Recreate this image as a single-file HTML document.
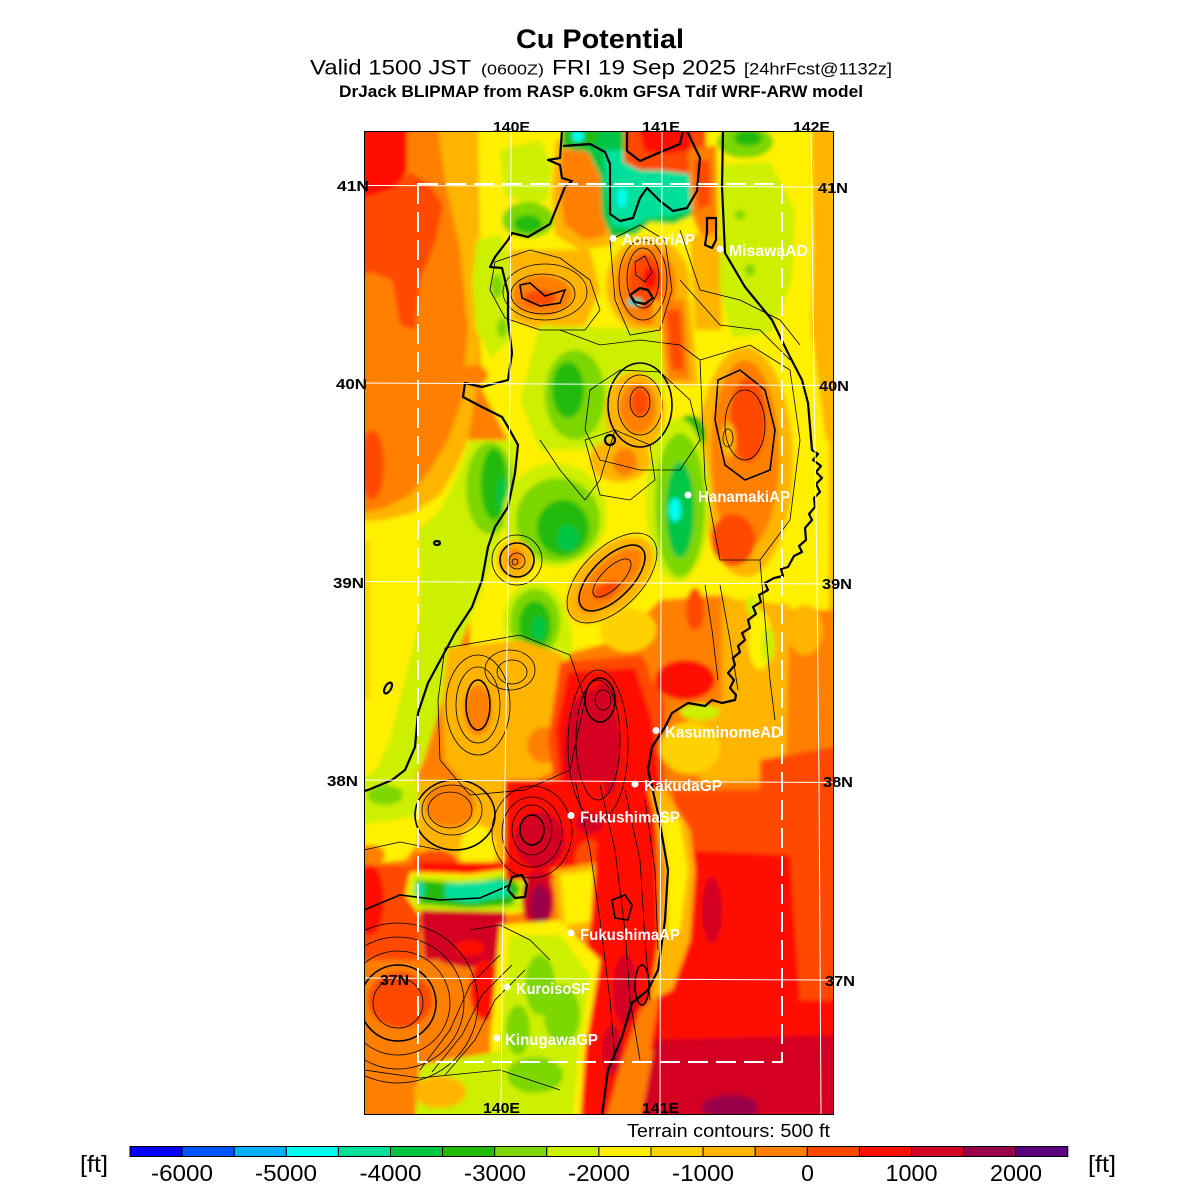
<!DOCTYPE html>
<html><head><meta charset="utf-8"><style>
html,body{margin:0;padding:0;background:#fff;}
svg{display:block;font-family:"Liberation Sans",Arial,sans-serif;}
</style></head><body>
<svg width="1200" height="1200" viewBox="0 0 1200 1200" xmlns="http://www.w3.org/2000/svg">
<defs>
<clipPath id="mc"><rect x="364" y="131" width="470" height="984"/></clipPath>
<filter id="bl" x="-5%" y="-5%" width="110%" height="110%"><feGaussianBlur stdDeviation="2"/></filter>
</defs>
<rect width="1200" height="1200" fill="#fff"/>

<!-- Titles -->
<text x="600" y="48" text-anchor="middle" font-size="27" font-weight="bold" textLength="168" lengthAdjust="spacingAndGlyphs">Cu Potential</text>
<text x="310" y="74.5" font-size="21" textLength="161" lengthAdjust="spacingAndGlyphs">Valid 1500 JST</text>
<text x="481" y="74.5" font-size="15" textLength="63" lengthAdjust="spacingAndGlyphs">(0600Z)</text>
<text x="552" y="74.5" font-size="21" textLength="184" lengthAdjust="spacingAndGlyphs">FRI 19 Sep 2025</text>
<text x="744" y="74.5" font-size="17" textLength="148" lengthAdjust="spacingAndGlyphs">[24hrFcst@1132z]</text>
<text x="339" y="97" font-size="17" font-weight="bold" textLength="524" lengthAdjust="spacingAndGlyphs">DrJack BLIPMAP from RASP 6.0km GFSA Tdif WRF-ARW model</text>

<g clip-path="url(#mc)">
<g filter="url(#bl)">
<rect x="354" y="121" width="490" height="1004" fill="#ff8000"/>
<!-- west sea -->
<polygon points="354,121 407,121 407,170 396,193 372,208 354,215" fill="#ff1000"/>
<polygon points="354,200 390,190 410,172 430,185 443,205 436,240 420,280 415,330 400,325 392,280 370,272 354,280" fill="#ff4800"/>
<ellipse cx="372" cy="465" rx="12" ry="35" fill="#ff4800"/>
<polygon points="437,121 480,121 482,200 480,300 478,380 468,440 455,470 440,495 415,512 385,520 354,522 354,515 385,508 410,495 430,470 448,440 462,400 468,330 460,250 445,180" fill="#ffb400"/>
<polygon points="354,522 385,520 415,512 440,495 455,470 468,440 500,440 496,480 480,520 460,560 440,600 425,650 410,700 395,745 380,775 354,800" fill="#fff000"/>
<rect x="354" y="540" width="16" height="160" fill="#ffd200"/>
<!-- north land yellow -->
<polygon points="478,121 812,121 814,250 812,330 826,440 844,440 844,612 780,612 720,595 660,600 620,640 580,650 540,660 500,660 470,650 470,600 490,560 505,500 508,440 482,390 478,300 480,240" fill="#fff000"/>
<polygon points="812,121 844,121 844,440 826,440 814,340 814,250" fill="#ffb400"/>
<rect x="829" y="440" width="15" height="180" fill="#ffb400"/>
<!-- YG west band -->
<polygon points="470,440 518,440 516,470 508,515 495,555 480,595 462,640 448,680 436,720 424,760 410,790 354,805 354,785 376,770 390,740 400,700 410,660 420,620 420,560 418,530 440,510 455,480" fill="#cdef00"/>
<polygon points="476,240 500,235 512,260 510,340 492,358 476,330 472,280" fill="#cdef00"/>
<ellipse cx="497" cy="286" rx="6" ry="12" fill="#7dd705"/>
<ellipse cx="502" cy="328" rx="5" ry="10" fill="#7dd705"/>
<!-- Tsugaru -->
<polygon points="500,150 540,140 552,165 548,200 530,205 505,195" fill="#cdef00"/>
<ellipse cx="528" cy="220" rx="26" ry="18" fill="#7dd705"/>
<ellipse cx="528" cy="224" rx="14" ry="9" fill="#22bb0c"/>
<polygon points="556,140 600,140 612,190 614,245 580,250 555,235 552,190" fill="#ffb400"/>
<polygon points="562,150 598,150 606,195 606,235 585,240 565,225 560,190" fill="#ff8000"/>
<!-- Mutsu bay -->
<polygon points="562,121 702,121 704,165 694,214 674,224 650,222 636,234 612,238 602,216 600,176 588,152 562,148" fill="#05c544"/>
<polygon points="604,150 650,150 692,165 692,210 672,216 648,218 632,228 612,226 606,190" fill="#00e09a"/>
<ellipse cx="580" cy="137" rx="18" ry="10" fill="#22bb0c"/>
<ellipse cx="578" cy="136" rx="6" ry="6" fill="#00ffef"/>
<ellipse cx="622" cy="198" rx="5" ry="10" fill="#00ffef"/>
<polygon points="624,121 706,121 706,165 692,174 660,170 640,170 624,162" fill="#ff4800"/>
<polygon points="636,121 692,121 690,150 666,154 645,152" fill="#ff1000"/>
<polygon points="688,150 716,145 718,232 702,240 692,214" fill="#ff8000"/>
<polygon points="694,160 710,160 710,205 698,210" fill="#ff4800"/>
<polygon points="690,235 720,235 722,330 695,330" fill="#ffb400"/>
<ellipse cx="745" cy="142" rx="28" ry="16" fill="#7dd705"/>
<ellipse cx="748" cy="138" rx="14" ry="8" fill="#22bb0c"/>
<polygon points="720,165 770,162 795,210 792,280 772,332 732,338 720,290 720,220" fill="#cdef00"/>
<ellipse cx="740" cy="215" rx="5" ry="5" fill="#7dd705"/>
<ellipse cx="750" cy="270" rx="5" ry="6" fill="#7dd705"/>
<!-- Hakkoda -->
<ellipse cx="648" cy="285" rx="42" ry="48" fill="#ffb400"/>
<ellipse cx="646" cy="285" rx="30" ry="40" fill="#ff8000"/>
<ellipse cx="645" cy="282" rx="17" ry="28" fill="#ff4800"/>
<ellipse cx="650" cy="278" rx="7" ry="12" fill="#ff1000"/>
<ellipse cx="635" cy="302" rx="8" ry="4" fill="#00e09a"/>
<ellipse cx="633" cy="302" rx="3" ry="2" fill="#00b0ff"/>
<polygon points="652,300 690,300 698,385 660,385" fill="#ffb400"/>
<polygon points="660,300 684,300 690,380 668,380" fill="#ff8000"/>
<polygon points="666,310 680,310 684,370 672,370" fill="#ff4800"/>
<!-- Shirakami -->
<polygon points="510,250 590,250 600,290 585,325 540,330 512,320" fill="#ffb400"/>
<ellipse cx="542" cy="295" rx="30" ry="20" fill="#ff8000"/>
<ellipse cx="540" cy="298" rx="16" ry="8" fill="#ff4800"/>
<ellipse cx="474" cy="375" rx="14" ry="10" fill="#ff8000"/>
<!-- north central green -->
<polygon points="540,325 660,330 665,390 660,450 540,450 520,400" fill="#cdef00"/>
<ellipse cx="575" cy="395" rx="30" ry="45" fill="#7dd705"/>
<ellipse cx="568" cy="390" rx="16" ry="28" fill="#22bb0c"/>
<ellipse cx="635" cy="412" rx="30" ry="40" fill="#ffb400"/>
<ellipse cx="638" cy="408" rx="18" ry="26" fill="#ff8000"/>
<ellipse cx="640" cy="402" rx="9" ry="14" fill="#ff4800"/>
<!-- Kitakami -->
<ellipse cx="745" cy="462" rx="48" ry="115" fill="#ffb400"/>
<ellipse cx="745" cy="455" rx="34" ry="95" fill="#ff8000"/>
<ellipse cx="748" cy="420" rx="18" ry="42" fill="#ff4800"/>
<ellipse cx="733" cy="540" rx="22" ry="26" fill="#ff4800"/>
<ellipse cx="728" cy="440" rx="8" ry="18" fill="#ffb400"/>
<ellipse cx="690" cy="435" rx="16" ry="20" fill="#22bb0c"/>
<!-- middle -->
<ellipse cx="490" cy="488" rx="24" ry="46" fill="#7dd705"/>
<ellipse cx="494" cy="484" rx="13" ry="36" fill="#22bb0c"/>
<ellipse cx="502" cy="495" rx="5" ry="18" fill="#05c544"/>
<ellipse cx="555" cy="515" rx="52" ry="52" fill="#cdef00"/>
<ellipse cx="558" cy="520" rx="42" ry="42" fill="#7dd705"/>
<ellipse cx="563" cy="528" rx="26" ry="28" fill="#22bb0c"/>
<ellipse cx="568" cy="538" rx="11" ry="13" fill="#05c544"/>
<ellipse cx="515" cy="560" rx="18" ry="20" fill="#ffb400"/>
<ellipse cx="515" cy="558" rx="8" ry="10" fill="#ff8000"/>
<ellipse cx="610" cy="580" rx="54" ry="30" transform="rotate(-45 610 580)" fill="#ffb400"/>
<ellipse cx="610" cy="580" rx="42" ry="18" transform="rotate(-45 610 580)" fill="#ff8000"/>
<ellipse cx="606" cy="590" rx="14" ry="7" transform="rotate(-30 606 590)" fill="#ff4800"/>
<ellipse cx="678" cy="500" rx="32" ry="82" fill="#cdef00"/>
<ellipse cx="680" cy="505" rx="25" ry="72" fill="#7dd705"/>
<ellipse cx="680" cy="510" rx="14" ry="48" fill="#05c544"/>
<ellipse cx="675" cy="510" rx="6" ry="12" fill="#00ffef"/>
<ellipse cx="620" cy="460" rx="30" ry="22" fill="#ffb400"/>
<ellipse cx="625" cy="462" rx="12" ry="14" fill="#ff8000"/>
<ellipse cx="535" cy="622" rx="32" ry="40" fill="#cdef00"/>
<ellipse cx="535" cy="622" rx="25" ry="33" fill="#7dd705"/>
<ellipse cx="535" cy="625" rx="16" ry="24" fill="#22bb0c"/>
<ellipse cx="539" cy="628" rx="7" ry="12" fill="#05c544"/>
<polygon points="448,648 520,640 565,655 580,700 565,765 525,785 470,792 445,760 442,700" fill="#ffb400"/>
<ellipse cx="478" cy="710" rx="14" ry="25" fill="#ff8000"/>
<ellipse cx="545" cy="745" rx="18" ry="18" fill="#ff8000"/>
<ellipse cx="628" cy="630" rx="28" ry="22" fill="#ffd200"/>
<ellipse cx="566" cy="640" rx="6" ry="20" fill="#cdef00"/>
<ellipse cx="695" cy="610" rx="9" ry="22" fill="#ff4800"/>
<polygon points="560,662 642,655 665,700 665,790 556,795 548,740" fill="#ff4800"/>
<polygon points="568,672 635,668 652,720 662,800 562,800 556,730" fill="#ff1000"/>
<ellipse cx="592" cy="752" rx="28" ry="62" fill="#d30024"/>
<ellipse cx="605" cy="700" rx="12" ry="18" fill="#d30024"/>
<ellipse cx="690" cy="665" rx="42" ry="36" fill="#ff8000"/>
<ellipse cx="685" cy="680" rx="30" ry="20" fill="#ff1000"/>
<polygon points="722,598 790,605 795,700 790,780 700,782 688,720 722,700" fill="#ffb400"/>
<ellipse cx="760" cy="640" rx="12" ry="30" fill="#fff000"/>
<ellipse cx="768" cy="645" rx="7" ry="18" fill="#cdef00"/>
<ellipse cx="752" cy="605" rx="6" ry="10" fill="#cdef00"/>
<ellipse cx="700" cy="712" rx="20" ry="8" fill="#cdef00"/>
<ellipse cx="690" cy="748" rx="30" ry="26" fill="#ffd200"/>
<polygon points="790,610 844,610 844,790 785,790" fill="#ff8000"/>
<ellipse cx="805" cy="630" rx="18" ry="25" fill="#ffb400"/>
<polygon points="760,760 844,745 844,800 760,800" fill="#ff4800"/>
<!-- south -->
<polygon points="354,790 420,780 425,835 405,860 354,865" fill="#fff000"/>
<polygon points="354,792 418,782 418,815 395,820 354,825" fill="#cdef00"/>
<ellipse cx="385" cy="795" rx="18" ry="10" fill="#7dd705"/>
<ellipse cx="370" cy="855" rx="15" ry="10" fill="#ff8000"/>
<polygon points="418,780 505,780 505,865 418,870" fill="#ffb400"/>
<ellipse cx="450" cy="805" rx="25" ry="22" fill="#ff8000"/>
<ellipse cx="478" cy="850" rx="18" ry="25" fill="#fff000"/>
<ellipse cx="435" cy="862" rx="22" ry="12" fill="#ff4800"/>
<polygon points="354,865 420,865 420,985 354,985" fill="#ff4800"/>
<ellipse cx="370" cy="900" rx="14" ry="35" fill="#ff1000"/>
<polygon points="420,862 510,862 515,875 420,878" fill="#ff1000"/>
<polygon points="410,872 470,874 515,868 530,885 525,912 480,918 420,916 405,895" fill="#fff000"/>
<polygon points="412,875 470,878 512,870 526,886 520,910 470,914 418,912 408,895" fill="#cdef00"/>
<polygon points="416,880 470,884 510,876 520,888 512,905 470,908 420,904" fill="#22bb0c"/>
<polygon points="445,884 505,880 512,895 470,903 445,898" fill="#00e09a"/>
<ellipse cx="420" cy="890" rx="5" ry="8" fill="#00e09a"/>
<polygon points="420,910 505,912 510,960 470,968 425,960" fill="#d30024"/>
<ellipse cx="470" cy="948" rx="15" ry="8" fill="#ff1000"/>
<polygon points="354,960 440,960 475,1000 470,1065 354,1065" fill="#ff8000"/>
<ellipse cx="400" cy="1000" rx="32" ry="28" fill="#ff4800"/>
<ellipse cx="485" cy="990" rx="15" ry="30" fill="#ff1000"/>
<polygon points="505,780 605,780 605,880 505,880" fill="#ff1000"/>
<ellipse cx="540" cy="840" rx="25" ry="28" fill="#d30024"/>
<ellipse cx="590" cy="860" rx="15" ry="20" fill="#ff4800"/>
<ellipse cx="538" cy="900" rx="16" ry="30" fill="#d30024"/>
<ellipse cx="540" cy="905" rx="10" ry="20" fill="#9a004a"/>
<polygon points="552,870 600,862 606,930 560,935" fill="#ffb400"/>
<polygon points="560,875 595,870 598,920 565,925" fill="#fff000"/>
<!-- inland red -->
<polygon points="600,795 650,790 660,850 670,930 660,990 640,1010 622,1060 604,1125 578,1125 575,1000 590,930" fill="#ff1000"/>
<ellipse cx="625" cy="990" rx="12" ry="35" fill="#d30024"/>
<ellipse cx="612" cy="1050" rx="10" ry="25" fill="#d30024"/>
<ellipse cx="590" cy="823" rx="14" ry="10" fill="#d30024"/>
<!-- green south -->
<polygon points="500,925 560,920 600,960 585,1050 580,1125 495,1125 490,1040" fill="#fff000"/>
<polygon points="510,935 560,935 590,975 578,1060 572,1125 505,1125 500,1040" fill="#cdef00"/>
<polygon points="420,1065 505,1050 560,1060 560,1125 414,1125" fill="#cdef00"/>
<ellipse cx="540" cy="985" rx="15" ry="30" fill="#7dd705"/>
<ellipse cx="562" cy="1015" rx="18" ry="30" fill="#7dd705"/>
<ellipse cx="535" cy="1075" rx="28" ry="18" fill="#7dd705"/>
<ellipse cx="518" cy="1030" rx="12" ry="25" fill="#7dd705"/>
<ellipse cx="440" cy="1092" rx="26" ry="16" fill="#ffb400"/>
<!-- coast strip & sea -->
<polygon points="655,795 700,790 705,860 700,1000 660,1000" fill="#ff8000"/>
<polygon points="672,790 844,790 844,1000 790,1000 780,860 700,860 680,830" fill="#ff4800"/>
<polygon points="680,850 790,855 800,1000 844,1000 844,1050 650,1050 660,990 682,930 690,870" fill="#ff1000"/>
<polygon points="648,790 665,790 690,830 695,870 690,940 672,990 650,1000 660,930 665,870 655,815" fill="#ffb400"/>
<polygon points="660,810 680,820 688,870 680,930 668,935 668,870" fill="#fff000"/>
<ellipse cx="712" cy="910" rx="10" ry="33" fill="#d30024"/>
<polygon points="655,1040 844,1035 844,1125 640,1125" fill="#d30024"/>
<ellipse cx="730" cy="1107" rx="28" ry="12" fill="#9a004a"/>
</g>

<!-- terrain contours -->
<g fill="none" stroke="#000" stroke-width="0.8">
<polygon points="495,262 530,250 560,258 590,280 600,310 585,330 540,330 505,318 490,290"/>
<ellipse cx="545" cy="292" rx="42" ry="28"/>
<ellipse cx="543" cy="294" rx="32" ry="20"/>
<polygon points="610,240 640,225 665,240 672,290 660,330 630,335 615,300"/>
<ellipse cx="643" cy="280" rx="24" ry="40"/>
<ellipse cx="643" cy="278" rx="16" ry="30"/>
<polygon points="635,262 645,256 652,272 645,282 636,275"/>
<polygon points="590,390 620,370 660,372 690,400 700,440 680,470 640,470 600,460 585,430"/>
<ellipse cx="640" cy="405" rx="22" ry="30"/>
<ellipse cx="640" cy="402" rx="10" ry="15"/>
<polygon points="700,360 750,345 790,370 800,440 790,520 760,560 720,560 705,480"/>
<ellipse cx="745" cy="425" rx="20" ry="35"/>
<ellipse cx="728" cy="438" rx="5" ry="9"/>
<polyline points="680,230 700,290 740,300 780,320 800,345"/>
<polyline points="680,280 720,325 760,330 790,360"/>
<polyline points="560,330 600,345 640,340 680,345 700,360"/>
<polyline points="540,440 560,470 585,500 600,480 615,430"/>
<polygon points="585,440 615,430 650,445 655,480 630,500 600,495"/>
<ellipse cx="517" cy="560" rx="25" ry="25"/>
<ellipse cx="517" cy="561" rx="8" ry="8"/>
<ellipse cx="515" cy="562" rx="3" ry="3"/>
<ellipse cx="612" cy="578" rx="56" ry="30" transform="rotate(-45 612 578)"/>
<ellipse cx="612" cy="578" rx="25" ry="10" transform="rotate(-45 612 578)"/>
<polygon points="445,648 520,635 570,655 585,700 570,770 525,790 470,795 440,760 438,700"/>
<ellipse cx="478" cy="705" rx="32" ry="50"/>
<ellipse cx="478" cy="705" rx="22" ry="38"/>
<ellipse cx="510" cy="670" rx="25" ry="20"/>
<ellipse cx="512" cy="672" rx="15" ry="12"/>
<ellipse cx="598" cy="740" rx="22" ry="60"/>
<ellipse cx="598" cy="745" rx="30" ry="75"/>
<ellipse cx="603" cy="700" rx="8" ry="10"/>
<polyline points="705,585 712,630 718,680"/>
<polyline points="720,585 730,640 738,690"/>
<ellipse cx="450" cy="810" rx="22" ry="18"/>
<ellipse cx="452" cy="810" rx="30" ry="25"/>
<ellipse cx="532" cy="830" rx="20" ry="25"/>
<ellipse cx="532" cy="832" rx="30" ry="35"/>
<ellipse cx="532" cy="832" rx="40" ry="46"/>
<circle cx="398" cy="1003" r="25"/>
<circle cx="398" cy="1003" r="52"/>
<circle cx="398" cy="1003" r="66"/>
<circle cx="398" cy="1003" r="80"/>
<polyline points="575,780 590,850 600,920 610,1000 615,1060"/>
<polyline points="600,785 615,850 625,930 630,1000 640,1060"/>
<polyline points="625,790 640,860 645,940 650,1000"/>
<polyline points="645,800 655,870 658,950"/>
<polyline points="420,1070 450,1030 470,985 500,955"/>
<polyline points="432,1072 462,1035 482,995 512,965"/>
<polyline points="445,1075 475,1040 495,1000 525,970"/>
<polyline points="470,930 500,925 530,940 550,960"/>
<polyline points="364,1070 420,1078 500,1070 560,1090"/>
<polyline points="364,850 400,842 440,850"/>
<polyline points="760,560 765,620 770,680 775,720"/>
</g>
<g fill="none" stroke="#000" stroke-width="1.6">
<polygon points="520,285 530,283 545,296 565,290 560,303 540,306 522,298"/>
<ellipse cx="640" cy="405" rx="32" ry="42"/>
<polygon points="718,380 740,370 765,390 775,430 770,470 745,480 725,465 715,420"/>
<ellipse cx="517" cy="560" rx="17" ry="17"/>
<ellipse cx="612" cy="578" rx="42" ry="20" transform="rotate(-45 612 578)"/>
<ellipse cx="478" cy="705" rx="12" ry="25"/>
<ellipse cx="600" cy="700" rx="15" ry="22"/>
<ellipse cx="455" cy="815" rx="40" ry="35"/>
<ellipse cx="532" cy="830" rx="12" ry="15"/>
<circle cx="398" cy="1003" r="38"/>
<polyline points="364,910 400,895 440,900 480,898 510,885"/>
<polygon points="612,900 625,895 632,905 628,920 615,918"/>
<ellipse cx="642" cy="985" rx="7" ry="20"/>
</g>

<!-- coastline -->
<g fill="none" stroke="#000" stroke-width="2.2" stroke-linejoin="round">
<path d="M562,131 L560,158 L548,160 L560,165 L562,178 L572,181 L565,187 L550,224 L528,237 L512,233 L508,240 L495,257 L490,267 L502,268 L508,293 L508,320 L512,353 L508,380 L482,387 L465,383 L463,397 L482,407 L502,417 L508,427 L518,445 L515,473 L508,507 L495,527 L488,547 L482,580 L472,607 L455,633 L442,657 L428,683 L418,713 L415,747 L405,770 L392,780 L368,790 L364,791"/>
<path d="M563,146 L590,144 L605,152 L610,164 L610,214 L620,221 L633,218 L640,198 L647,188 L660,201 L673,211 L687,208 L697,191 L700,158 L687,131"/>
<path d="M627,131 L627,151 L640,161 L663,151 L680,144 L683,131"/>
<path d="M707,218 L716,218 L716,240 L712,248 L705,245 L707,232 Z"/>
<path d="M723,131 L722,187 L725,253 L745,287 L772,320 L788,353 L802,380 L808,403 L812,450 L818,454 L813,460 L821,466 L816,472 L822,478 L816,484 L820,492 L814,498 L815,507 L809,514 L812,520 L805,528 L806,540 L799,546 L802,552 L794,556 L788,567 L781,569 L783,576 L774,578 L765,583 L768,590 L759,595 L761,602 L753,607 L756,614 L748,620 L750,628 L742,633 L745,640 L738,646 L740,652 L733,658 L735,665 L728,673 L734,680 L730,688 L736,695 L735,700 L722,703 L712,700 L705,706 L688,703 L680,708 L672,713 L665,727 L652,747 L648,770 L658,813 L668,870 L665,920 L658,970 L648,990 L632,1003 L622,1037 L608,1070 L602,1115"/>
<path d="M512,877 L522,875 L527,885 L525,897 L515,898 L508,890 Z"/>
<path d="M630,295 L640,288 L648,290 L653,298 L645,304 L635,302 Z"/>
<circle cx="610" cy="440" r="5"/>
<ellipse cx="437" cy="543" rx="3" ry="2"/>
<ellipse cx="388" cy="688" rx="3" ry="6" transform="rotate(30 388 688)"/>
</g>

<!-- grid lines -->
<g fill="none" stroke="#fff" stroke-width="1">
<polyline points="511,131 510,380 508,580 505,780 502,980 501,1115"/>
<polyline points="662,131 661,580 660,1115"/>
<polyline points="811,131 814,380 817,580 819,780 821,1115"/>
<line x1="364" y1="185.5" x2="834" y2="187"/>
<line x1="364" y1="383" x2="834" y2="385.5"/>
<line x1="364" y1="581.5" x2="834" y2="584"/>
<line x1="364" y1="780" x2="834" y2="782.5"/>
<line x1="364" y1="978" x2="834" y2="980"/>
</g>
<rect x="418" y="184" width="364" height="878" fill="none" stroke="#fff" stroke-width="2" stroke-dasharray="20 8"/>
</g>
<rect x="364.5" y="131.5" width="469" height="983" fill="none" stroke="#000" stroke-width="1"/>

<!-- site markers -->
<g fill="#fff">
<circle cx="613" cy="238.5" r="3.5"/>
<circle cx="720" cy="249" r="3.5"/>
<circle cx="688" cy="495" r="3.5"/>
<circle cx="656" cy="730.5" r="3.5"/>
<circle cx="635" cy="784" r="3.5"/>
<circle cx="571" cy="815.5" r="3.5"/>
<circle cx="571" cy="933" r="3.5"/>
<circle cx="507" cy="987" r="3.5"/>
<circle cx="497" cy="1038" r="3.5"/>
</g>
<g fill="#fff" font-size="16" font-weight="bold">
<text x="622" y="245" textLength="73" lengthAdjust="spacingAndGlyphs">AomoriAP</text>
<text x="729" y="256" textLength="79" lengthAdjust="spacingAndGlyphs">MisawaAD</text>
<text x="698" y="502" textLength="92" lengthAdjust="spacingAndGlyphs">HanamakiAP</text>
<text x="665" y="737.5" textLength="117" lengthAdjust="spacingAndGlyphs">KasuminomeAD</text>
<text x="644" y="791" textLength="78" lengthAdjust="spacingAndGlyphs">KakudaGP</text>
<text x="580" y="822.5" textLength="100" lengthAdjust="spacingAndGlyphs">FukushimaSP</text>
<text x="580" y="940" textLength="100" lengthAdjust="spacingAndGlyphs">FukushimaAP</text>
<text x="516" y="994" textLength="74" lengthAdjust="spacingAndGlyphs">KuroisoSF</text>
<text x="505" y="1045" textLength="93" lengthAdjust="spacingAndGlyphs">KinugawaGP</text>
</g>

<!-- tick labels -->
<g font-size="15" font-weight="bold" fill="#000">
<text x="511.5" y="132" text-anchor="middle" textLength="37" lengthAdjust="spacingAndGlyphs">140E</text>
<text x="661" y="132" text-anchor="middle" textLength="38" lengthAdjust="spacingAndGlyphs">141E</text>
<text x="811.5" y="132" text-anchor="middle" textLength="37" lengthAdjust="spacingAndGlyphs">142E</text>
<text x="501.5" y="1113" text-anchor="middle" textLength="37" lengthAdjust="spacingAndGlyphs">140E</text>
<text x="660.5" y="1113" text-anchor="middle" textLength="37" lengthAdjust="spacingAndGlyphs">141E</text>
<text x="369" y="191" text-anchor="end" textLength="32" lengthAdjust="spacingAndGlyphs">41N</text>
<text x="367" y="389" text-anchor="end" textLength="31" lengthAdjust="spacingAndGlyphs">40N</text>
<text x="364" y="588" text-anchor="end" textLength="31" lengthAdjust="spacingAndGlyphs">39N</text>
<text x="358" y="786" text-anchor="end" textLength="31" lengthAdjust="spacingAndGlyphs">38N</text>
<text x="380" y="985" textLength="29" lengthAdjust="spacingAndGlyphs">37N</text>
<text x="818" y="193" textLength="30" lengthAdjust="spacingAndGlyphs">41N</text>
<text x="819" y="391" textLength="30" lengthAdjust="spacingAndGlyphs">40N</text>
<text x="822" y="589" textLength="30" lengthAdjust="spacingAndGlyphs">39N</text>
<text x="823" y="787" textLength="30" lengthAdjust="spacingAndGlyphs">38N</text>
<text x="825" y="986" textLength="30" lengthAdjust="spacingAndGlyphs">37N</text>
</g>

<text x="627" y="1137" font-size="18" textLength="203" lengthAdjust="spacingAndGlyphs">Terrain contours: 500 ft</text>

<!-- colorbar -->
<g stroke="#000" stroke-width="1">
<rect x="130" y="1146.5" width="52.1" height="10" fill="#0600ff"/>
<rect x="182.1" y="1146.5" width="52.1" height="10" fill="#0055ff"/>
<rect x="234.2" y="1146.5" width="52.1" height="10" fill="#00b0ff"/>
<rect x="286.3" y="1146.5" width="52.1" height="10" fill="#00ffef"/>
<rect x="338.4" y="1146.5" width="52.1" height="10" fill="#00e09a"/>
<rect x="390.5" y="1146.5" width="52.1" height="10" fill="#05c544"/>
<rect x="442.6" y="1146.5" width="52.1" height="10" fill="#22bb0c"/>
<rect x="494.7" y="1146.5" width="52.1" height="10" fill="#7dd705"/>
<rect x="546.8" y="1146.5" width="52.1" height="10" fill="#cdef00"/>
<rect x="598.9" y="1146.5" width="52.1" height="10" fill="#fff000"/>
<rect x="651" y="1146.5" width="52.1" height="10" fill="#ffd200"/>
<rect x="703.1" y="1146.5" width="52.1" height="10" fill="#ffb400"/>
<rect x="755.2" y="1146.5" width="52.1" height="10" fill="#ff8000"/>
<rect x="807.3" y="1146.5" width="52.1" height="10" fill="#ff4800"/>
<rect x="859.4" y="1146.5" width="52.1" height="10" fill="#ff1000"/>
<rect x="911.5" y="1146.5" width="52.1" height="10" fill="#d30024"/>
<rect x="963.6" y="1146.5" width="52.1" height="10" fill="#9a004a"/>
<rect x="1015.7" y="1146.5" width="52.1" height="10" fill="#5a007e"/>
</g>
<g font-size="23" text-anchor="middle" fill="#000">
<text x="182" y="1181" textLength="62" lengthAdjust="spacingAndGlyphs">-6000</text>
<text x="286" y="1181" textLength="62" lengthAdjust="spacingAndGlyphs">-5000</text>
<text x="390.5" y="1181" textLength="62" lengthAdjust="spacingAndGlyphs">-4000</text>
<text x="495" y="1181" textLength="62" lengthAdjust="spacingAndGlyphs">-3000</text>
<text x="599" y="1181" textLength="62" lengthAdjust="spacingAndGlyphs">-2000</text>
<text x="703" y="1181" textLength="62" lengthAdjust="spacingAndGlyphs">-1000</text>
<text x="807.5" y="1181">0</text>
<text x="911.5" y="1181" textLength="52" lengthAdjust="spacingAndGlyphs">1000</text>
<text x="1016" y="1181" textLength="52" lengthAdjust="spacingAndGlyphs">2000</text>
</g>
<text x="80" y="1172" font-size="23" textLength="28" lengthAdjust="spacingAndGlyphs">[ft]</text>
<text x="1088" y="1172" font-size="23" textLength="28" lengthAdjust="spacingAndGlyphs">[ft]</text>
</svg>
</body></html>
